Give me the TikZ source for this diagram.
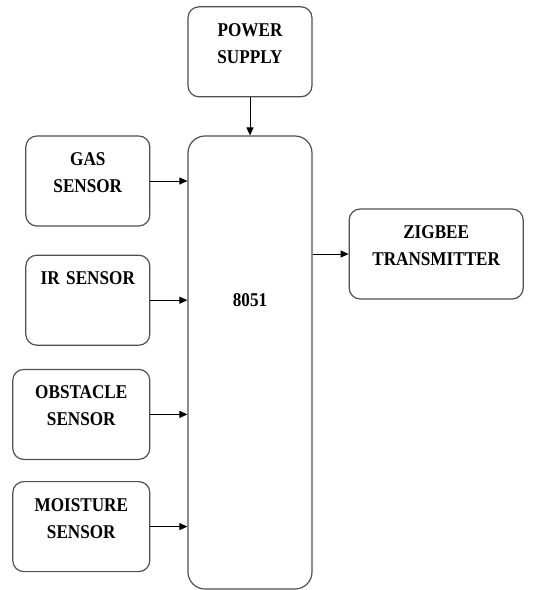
\documentclass[tikz,border=0pt]{standalone}
\usepackage{fontspec}
\setmainfont{Liberation Serif}[FakeStretch=0.88]
\usetikzlibrary{arrows.meta, positioning}
\definecolor{edgeGray}{HTML}{505050}

\begin{document}
\begin{tikzpicture}[
    x=1pt, y=1pt,
    block/.style={rectangle, draw=edgeGray, line width=1.2pt, rounded corners=11pt, inner sep=0pt, align=center, text width=124pt, text height=29.5pt, text depth=60.5pt, font=\fontsize{19.5}{27}\selectfont\bfseries},
    arrow/.style={-{Triangle[length=8pt, width=7pt]}, line width=1pt},
]
    \useasboundingbox (0,0) rectangle (534,-590);

    \node[block, rounded corners=17pt, text height=170pt, text depth=283pt] (mcu) at (250,-362.5) {8051};
    \node[block, above=38pt of mcu] (power) {POWER\\SUPPLY};
    \node[block, left=37pt of mcu.north west, anchor=north east] (gas) {GAS\\SENSOR};
    \node[block, below=28pt of gas] (ir) {IR SENSOR};
    \node[block, text width=137pt, below=23pt of ir.south east, anchor=north east] (obstacle) {OBSTACLE\\SENSOR};
    \node[block, text width=137pt, below=21pt of obstacle] (moisture) {MOISTURE\\SENSOR};
    \node[block, text width=174pt, right=36pt of mcu.north east, anchor=north west, yshift=-73pt] (zigbee) {ZIGBEE\\TRANSMITTER};

    \draw[arrow] (power) -- (mcu);
    \draw[arrow] (gas.east) -- (gas.east -| mcu.west);
    \draw[arrow] (ir.east) -- (ir.east -| mcu.west);
    \draw[arrow] (obstacle.east) -- (obstacle.east -| mcu.west);
    \draw[arrow] (moisture.east) -- (moisture.east -| mcu.west);
    \draw[arrow] (zigbee.west -| mcu.east) -- (zigbee.west);
\end{tikzpicture}
\end{document}
